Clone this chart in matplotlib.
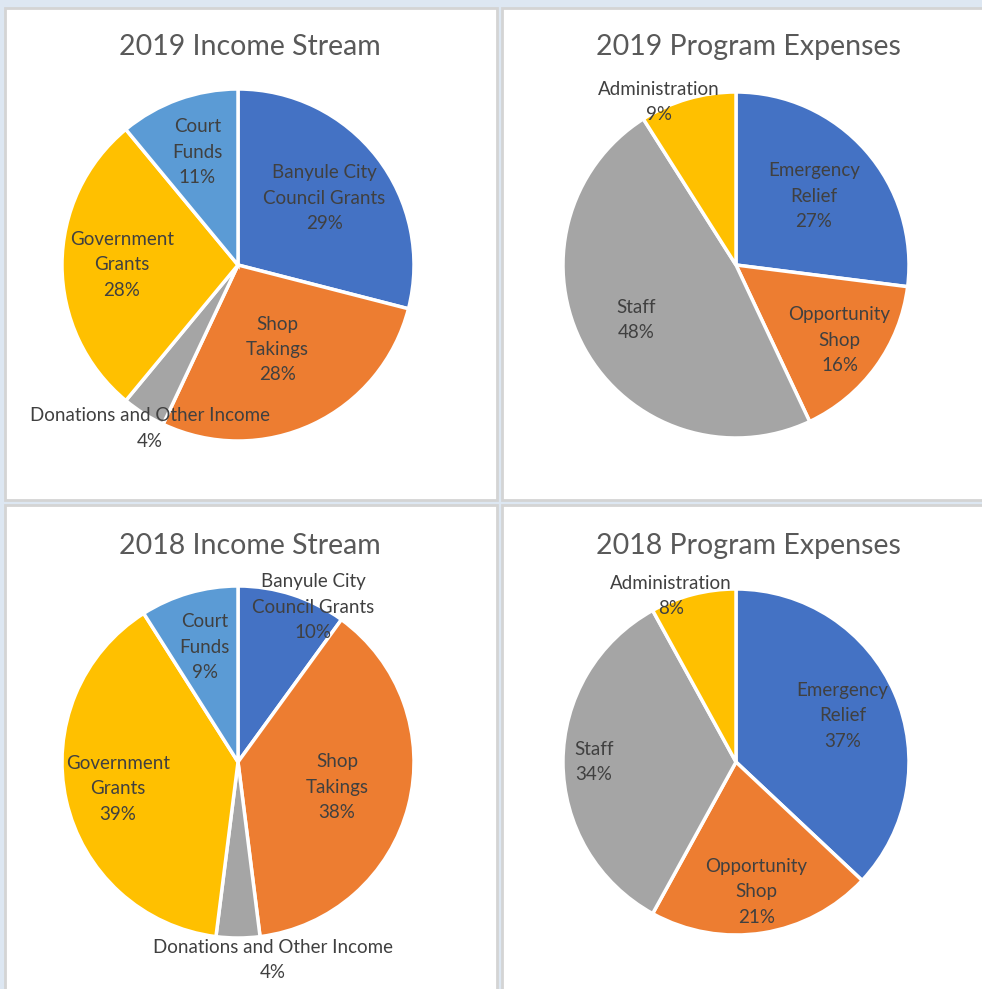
import numpy as np
import matplotlib.pyplot as plt
from matplotlib.patches import Rectangle

# chart data
income_labels = ["Banyule City\nCouncil Grants", "Shop\nTakings",
                 "Donations and Other Income", "Government\nGrants", "Court\nFunds"]
income_2019 = [29, 28, 4, 28, 11]
income_2018 = [10, 38, 4, 39, 9]

expense_labels = ["Emergency\nRelief", "Opportunity\nShop", "Staff", "Administration"]
expense_2019 = [27, 16, 48, 9]
expense_2018 = [37, 21, 34, 8]

income_colors = ["#4472C4", "#ED7D31", "#A5A5A5", "#FFC000", "#5B9BD5"]
expense_colors = ["#4472C4", "#ED7D31", "#A5A5A5", "#FFC000"]

W, H = 982, 989
plt.rcParams['font.family'] = ['Lato', 'DejaVu Sans']
fig = plt.figure(figsize=(W / 100, H / 100), dpi=100, facecolor="#dde7f2")


def px_axes(x0, y0, w, h):
    # pixel box with top-left origin -> figure axes
    return fig.add_axes([x0 / W, 1 - (y0 + h) / H, w / W, h / H])


# panel backgrounds
for (x0, y0) in [(5, 8), (502, 8), (5, 505), (502, 505)]:
    fig.patches.append(Rectangle((x0 / W, 1 - (y0 + 492) / H), 492 / W, 492 / H,
                                 transform=fig.transFigure, facecolor="white",
                                 edgecolor="#d4d4d4", linewidth=2, zorder=-5))


def draw_pie(cx, cy, r, title, labels, values, colors, label_pos):
    # label_pos: (radial distance, x nudge) for each slice label
    ax = px_axes(cx - r, cy - r, 2 * r, 2 * r)
    ax.set_zorder(2)
    ax.patch.set_visible(False)
    wedges, _ = ax.pie(values, colors=colors, startangle=90, counterclock=False,
                       radius=1, wedgeprops=dict(edgecolor="white", linewidth=2.5))
    ax.set_xlim(-1, 1)
    ax.set_ylim(-1, 1)
    ax.set_aspect("equal")
    ax.axis("off")
    for w, lab, v, (d, dx) in zip(wedges, labels, values, label_pos):
        mid = np.deg2rad((w.theta1 + w.theta2) / 2)
        ax.text(d * np.cos(mid) + dx, d * np.sin(mid), f"{lab}\n{v}%",
                ha="center", va="center", fontsize=13.5, color="#404040",
                linespacing=1.6, clip_on=False)
    fig.text((cx + 12) / W, 1 - 47 / H if cy < 500 else 1 - 546 / H, title,
             ha="center", va="center", fontsize=20.5, color="#595959")


draw_pie(238, 265, 176, "2019 Income Stream", income_labels, income_2019,
         income_colors,
         [(0.62, 0), (0.53, 0), (1.1, 0.09), (0.66, 0), (0.68, 0)])
draw_pie(736, 265, 173, "2019 Program Expenses", expense_labels, expense_2019,
         expense_colors, [(0.60, 0), (0.74, 0), (0.66, 0), (0.98, -0.17)])
draw_pie(238, 762, 176, "2018 Income Stream", income_labels, income_2018,
         income_colors,
         [(0.925, 0.14), (0.58, 0), (1.125, 0.2), (0.70, 0), (0.68, 0)])
draw_pie(736, 762, 173, "2018 Program Expenses", expense_labels, expense_2018,
         expense_colors, [(0.67, 0), (0.76, 0), (0.82, 0), (0.99, -0.13)])

fig.savefig("out.png", dpi=100, facecolor=fig.get_facecolor())
